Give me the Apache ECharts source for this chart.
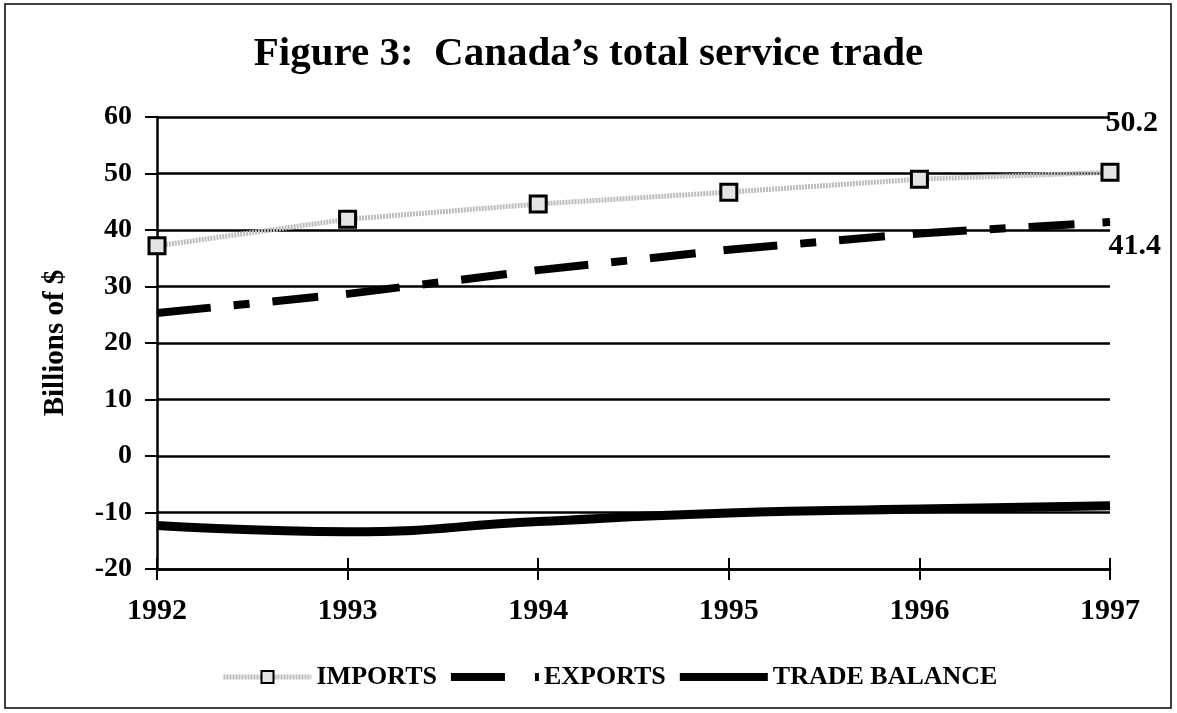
<!DOCTYPE html>
<html>
<head>
<meta charset="utf-8">
<script src="https://cdn.jsdelivr.net/npm/echarts@6/dist/echarts.min.js"></script>
<style>
  html, body { margin: 0; padding: 0; background: #fff; }
  #main { width: 1177px; height: 713px; }
</style>
</head>
<body>
<div id="main"></div>
<script>
  const years = ['1992', '1993', '1994', '1995', '1996', '1997']
  const imports = [37.2, 41.9, 44.6, 46.7, 49.0, 50.2]
  const exports = [25.3, 28.7, 32.9, 36.5, 39.4, 41.4]
  const tradeBalance = [-12.3, -13.4, -11.6, -10.1, -9.4, -8.8]

  const font = 'Liberation Serif'
  const chart = echarts.init(document.getElementById('main'))

  // only the last point gets a value label
  function lastLabel(values, pos) {
    return values.map((v, i) => {
      if (i !== values.length - 1) return v
      return {
        value: v,
        label: {
          show: true,
          position: pos,
          formatter: '{c}',
          fontFamily: font,
          fontWeight: 'bold',
          fontSize: 30,
          color: '#000',
        },
      }
    })
  }

  const hiddenSymbol = { color: 'rgba(0,0,0,0)', borderWidth: 0, opacity: 0 }
  const exportsDash = [54, 23, 16, 23, 46, 28]

  const option = {
    animation: false,
    backgroundColor: '#fff',
    title: {
      text: 'Figure 3:  Canada\u2019s total service trade',
      left: 'center',
      top: 29,
      textStyle: { fontFamily: font, fontWeight: 'bold', fontSize: 41, color: '#000' },
    },
    graphic: [
      {
        type: 'rect',
        shape: { x: 5, y: 4, width: 1166, height: 704 },
        style: { fill: 'none', stroke: '#000', lineWidth: 1.5 },
      },
    ],
    grid: { left: 157, right: 67, top: 117, bottom: 144 },
    legend: {
      top: 659,
      left: 216,
      itemGap: 10,
      itemWidth: 88,
      itemHeight: 15,
      textStyle: { fontFamily: font, fontWeight: 'bold', fontSize: 26, color: '#000' },
      data: [
        {
          name: 'IMPORTS',
          lineStyle: { color: '#bdbdbd', width: 5, type: [2, 1] },
        },
        {
          name: 'EXPORTS',
          itemStyle: hiddenSymbol,
          lineStyle: { color: '#000', width: 8, type: [54, 30, 6, 10] },
        },
        {
          name: 'TRADE BALANCE',
          itemStyle: hiddenSymbol,
          lineStyle: { color: '#000', width: 8, type: 'solid' },
        },
      ],
    },
    xAxis: [
      {
        type: 'category',
        boundaryGap: false,
        data: years,
        axisLine: { onZero: false, lineStyle: { color: '#000', width: 2.5 } },
        axisTick: { show: true, length: 11, lineStyle: { color: '#000', width: 2 } },
        axisLabel: { fontFamily: font, fontWeight: 'bold', fontSize: 30, color: '#000', margin: 27 },
      },
      {
        // second copy of the axis, only for the tick marks that stick up
        type: 'category',
        boundaryGap: false,
        data: years,
        position: 'bottom',
        axisLine: { show: false, onZero: false },
        axisTick: { show: true, inside: true, length: 11, lineStyle: { color: '#000', width: 2 } },
        axisLabel: { show: false },
      },
    ],
    yAxis: {
      type: 'value',
      min: -20,
      max: 60,
      interval: 10,
      name: 'Billions of $',
      nameLocation: 'middle',
      nameGap: 87,
      nameTextStyle: { fontFamily: font, fontWeight: 'bold', fontSize: 29, color: '#000' },
      axisLine: { show: true, lineStyle: { color: '#000', width: 2.5 } },
      axisTick: { show: true, length: 12, lineStyle: { color: '#000', width: 2 } },
      axisLabel: { fontFamily: font, fontWeight: 'bold', fontSize: 28, color: '#000', margin: 25 },
      splitLine: { lineStyle: { color: '#000', width: 2.5 } },
    },
    series: [
      {
        name: 'IMPORTS',
        type: 'line',
        data: lastLabel(imports, [5, -55]),
        symbol: 'rect',
        symbolSize: 16,
        itemStyle: { color: '#e4e4e4', borderColor: '#000', borderWidth: 3 },
        lineStyle: { color: '#bdbdbd', width: 5, type: [2, 1] },
        z: 3,
      },
      {
        name: 'EXPORTS',
        type: 'line',
        data: lastLabel(exports, [-1, 10]),
        symbol: 'circle',
        symbolSize: 1,
        itemStyle: { color: '#000' },
        lineStyle: { color: '#000', width: 8, type: exportsDash },
        z: 2,
      },
      {
        name: 'TRADE BALANCE',
        type: 'line',
        data: tradeBalance,
        smooth: true,
        symbol: 'none',
        itemStyle: { color: '#000' },
        lineStyle: { color: '#000', width: 9 },
        z: 2,
      },
    ],
  }

  chart.setOption(option)
</script>
</body>
</html>
